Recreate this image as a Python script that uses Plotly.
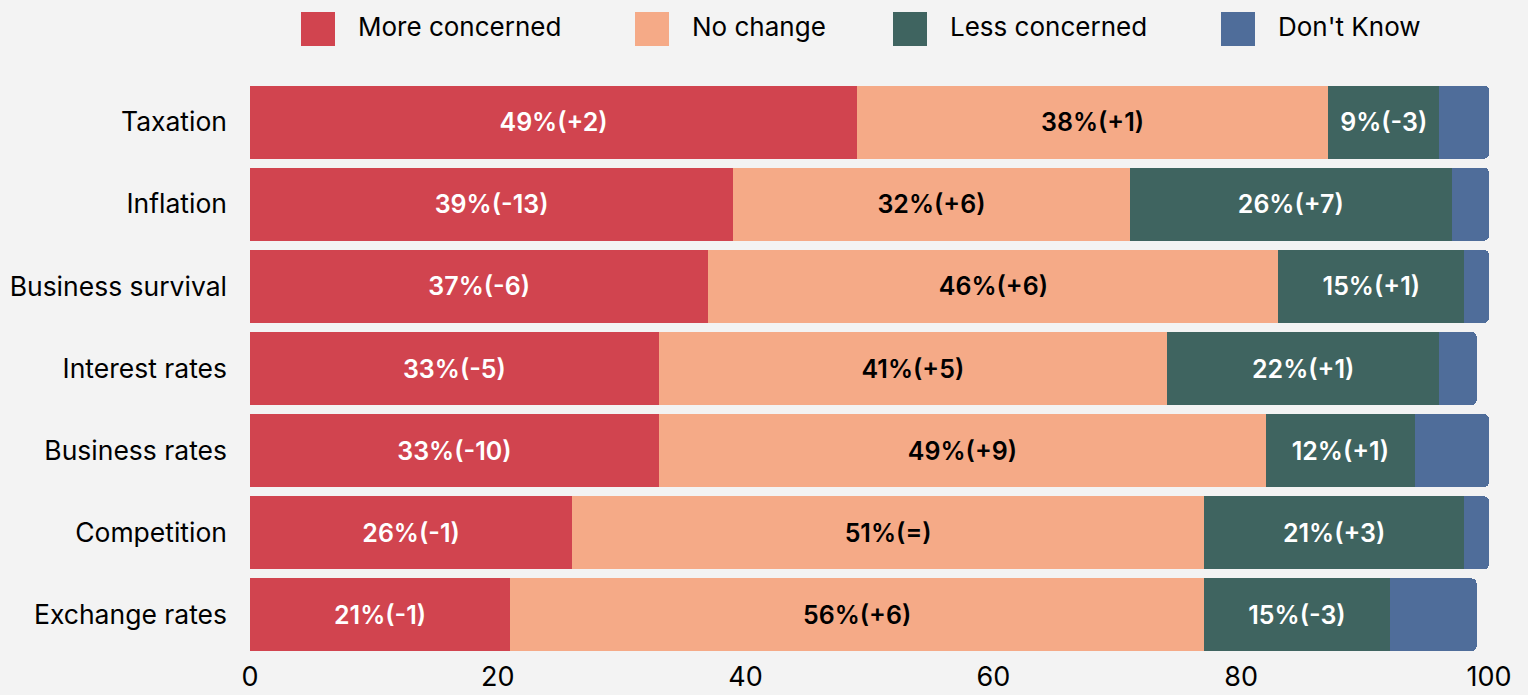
import plotly.graph_objects as go

categories = ["Taxation", "Inflation", "Business survival", "Interest rates",
              "Business rates", "Competition", "Exchange rates"]

more_concerned = [49, 39, 37, 33, 33, 26, 21]
more_change = ["+2", "-13", "-6", "-5", "-10", "-1", "-1"]

no_change = [38, 32, 46, 41, 49, 51, 56]
no_change_change = ["+1", "+6", "+6", "+5", "+9", "=", "+6"]

less_concerned = [9, 26, 15, 22, 12, 21, 15]
less_change = ["-3", "+7", "+1", "+1", "+1", "+3", "-3"]

dont_know = [4, 3, 2, 3, 6, 2, 7]

series = [
    ("More concerned", more_concerned, more_change, "#d1444f", "white"),
    ("No change", no_change, no_change_change, "#f5aa87", "black"),
    ("Less concerned", less_concerned, less_change, "#3f6460", "white"),
    ("Don't Know", dont_know, None, "#4f6d9a", "white"),
]

FONT = "Inter, Roboto, sans-serif"
W, H = 1528, 695
M = dict(l=250, r=39, t=81, b=39)
PW = W - M["l"] - M["r"]
PH = H - M["t"] - M["b"]


def px_x(px):
    return (px - M["l"]) / PW


def px_y(py):
    return (H - M["b"] - py) / PH


fig = go.Figure()
for name, vals, changes, color, tcolor in series:
    if changes is not None:
        labels = [f"{v}%({c})" for v, c in zip(vals, changes)]
    else:
        labels = [""] * len(vals)
    fig.add_trace(go.Bar(
        y=categories, x=vals, orientation="h", name=name,
        marker=dict(color=color, line=dict(width=0)),
        text=labels, textposition="inside", insidetextanchor="middle",
        textangle=0, constraintext="none",
        textfont=dict(family=FONT, size=25, color=tcolor, weight=600),
        showlegend=False, hoverinfo="skip",
    ))

# Legend row across the top: large swatches followed by the series name
legend_left = [301, 635, 893, 1221]
swatch = 34
for (name, _, _, color, _), x0 in zip(series, legend_left):
    fig.add_shape(type="rect", xref="paper", yref="paper",
                  x0=px_x(x0), x1=px_x(x0 + swatch),
                  y0=px_y(12 + swatch), y1=px_y(12),
                  fillcolor=color, line=dict(width=0), layer="above")
    fig.add_annotation(text=name, xref="paper", yref="paper",
                       x=px_x(x0 + swatch + 21), y=px_y(26),
                       xanchor="left", yanchor="middle", showarrow=False,
                       font=dict(family=FONT, size=26, color="black"))

fig.update_layout(
    barmode="stack",
    bargap=0.11,
    barcornerradius=5,
    width=W, height=H,
    margin=M,
    paper_bgcolor="#f3f3f3",
    plot_bgcolor="#f3f3f3",
    font=dict(family=FONT, size=26, color="black"),
    showlegend=False,
    xaxis=dict(range=[0, 100], tickvals=[0, 20, 40, 60, 80, 100], showgrid=False,
               zeroline=False, showline=False, ticks="", ticklabelstandoff=2,
               automargin=False, tickfont=dict(size=27)),
    yaxis=dict(categoryorder="array", categoryarray=categories, autorange="reversed",
               showgrid=False, zeroline=False, showline=False, ticks="",
               ticklabelstandoff=22, automargin=False, tickfont=dict(size=26.5)),
)

fig.write_html("out.html")
